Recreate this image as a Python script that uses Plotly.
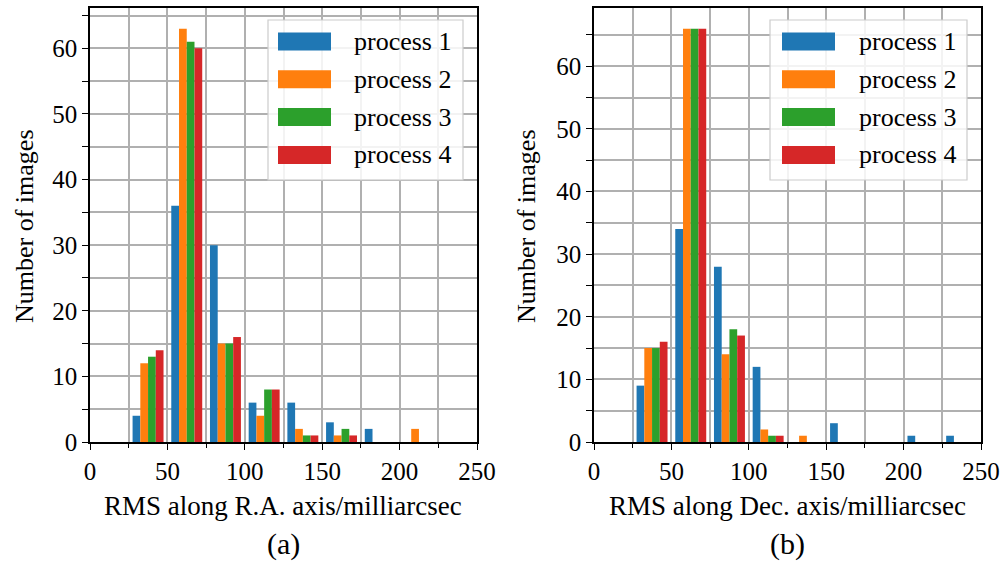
import plotly.graph_objects as go

# ---- data ----
bin_centers = [37.5, 62.5, 87.5, 112.5, 137.5, 162.5, 187.5, 212.5, 237.5]
series_names = ["process 1", "process 2", "process 3", "process 4"]
colors = ["#1f77b4", "#ff7f0e", "#2ca02c", "#d62728"]

ra_p1 = [4, 36, 30, 6, 6, 3, 2, 0, 0]
ra_p2 = [12, 63, 15, 4, 2, 1, 0, 2, 0]
ra_p3 = [13, 61, 15, 8, 1, 2, 0, 0, 0]
ra_p4 = [14, 60, 16, 8, 1, 1, 0, 0, 0]

dec_p1 = [9, 34, 28, 12, 0, 3, 0, 1, 1]
dec_p2 = [15, 66, 14, 2, 1, 0, 0, 0, 0]
dec_p3 = [15, 66, 18, 1, 0, 0, 0, 0, 0]
dec_p4 = [16, 66, 17, 1, 0, 0, 0, 0, 0]

x_ticks = [0, 50, 100, 150, 200, 250]
y_ticks = [0, 10, 20, 30, 40, 50, 60]
xtitle_a = "RMS along R.A. axis/milliarcsec"
xtitle_b = "RMS along Dec. axis/milliarcsec"
ytitle = "Number of images"

W, H = 1002, 565
FONT = "Times New Roman, Liberation Serif, DejaVu Serif, serif"

def px(x):
    return x / W

def py(y):
    return 1 - y / H

fig = go.Figure()
ra = [ra_p1, ra_p2, ra_p3, ra_p4]
dec = [dec_p1, dec_p2, dec_p3, dec_p4]
for i in range(4):
    fig.add_trace(go.Bar(x=bin_centers, y=ra[i], name=series_names[i], marker_color=colors[i],
                         marker_line_width=0, xaxis="x", yaxis="y", showlegend=False))
for i in range(4):
    fig.add_trace(go.Bar(x=bin_centers, y=dec[i], name=series_names[i], marker_color=colors[i],
                         marker_line_width=0, xaxis="x2", yaxis="y2", showlegend=False))

def xax(domain, anchor):
    return dict(domain=domain, anchor=anchor, range=[0, 250], tickvals=x_ticks,
                automargin=False,
                showgrid=True, gridcolor="#b0b0b0", gridwidth=1.5,
                minor=dict(dtick=25, tick0=0, showgrid=True, gridcolor="#b0b0b0", gridwidth=1.5,
                           ticks="outside", ticklen=4, tickcolor="black"),
                ticks="outside", ticklen=6, tickwidth=1.2, tickcolor="black",
                showline=True, linecolor="black", linewidth=1.5, mirror=True,
                zeroline=False, tickfont=dict(size=25, color="black", family=FONT))

def yax(domain, anchor, top):
    return dict(domain=domain, anchor=anchor, range=[0, top], tickvals=y_ticks,
                automargin=False,
                showgrid=True, gridcolor="#b0b0b0", gridwidth=1.5,
                minor=dict(dtick=5, tick0=0, showgrid=True, gridcolor="#b0b0b0", gridwidth=1.5,
                           ticks="outside", ticklen=6, tickcolor="black"),
                ticks="outside", ticklen=6, tickwidth=1.2, tickcolor="black",
                showline=True, linecolor="black", linewidth=1.5, mirror=True,
                zeroline=False, tickfont=dict(size=25, color="black", family=FONT))

ydom = [py(442), py(8)]
fig.update_layout(
    width=W, height=H, margin=dict(l=0, r=0, t=0, b=0, autoexpand=False),
    paper_bgcolor="white", plot_bgcolor="white",
    barmode="group", bargap=0.2, bargroupgap=0,
    font=dict(family=FONT, color="black"),
    xaxis=xax([px(90), px(477)], "y"),
    yaxis=yax(ydom, "x", max(max(l) for l in ra) * 1.05),
    xaxis2=xax([px(594), px(981)], "y2"),
    yaxis2=yax(ydom, "x2", max(max(l) for l in dec) * 1.05),
)

annotations = []
shapes = []
# axis titles and panel labels
for cx, lab, t in [(283, "(a)", xtitle_a), (787, "(b)", xtitle_b)]:
    annotations.append(dict(x=px(cx), y=py(506), xref="paper", yref="paper", text=t,
                            showarrow=False, font=dict(size=27, family=FONT, color="black"),
                            xanchor="center", yanchor="middle"))
    annotations.append(dict(x=px(cx), y=py(544), xref="paper", yref="paper", text=lab,
                            showarrow=False, font=dict(size=30, family=FONT, color="black"),
                            xanchor="center", yanchor="middle"))
for cx in [24, 526]:
    annotations.append(dict(x=px(cx), y=py(226), xref="paper", yref="paper", text=ytitle,
                            showarrow=False, textangle=-90,
                            font=dict(size=26, family=FONT, color="black"),
                            xanchor="center", yanchor="middle"))

# custom legends
for bx0, bx1, patch_x0, text_x in [(268, 463, 278, 352), (770, 967, 782, 857)]:
    shapes.append(dict(type="rect", xref="paper", yref="paper",
                       x0=px(bx0), x1=px(bx1), y0=py(180), y1=py(20),
                       line=dict(color="#cccccc", width=1.2), fillcolor="rgba(255,255,255,0.85)",
                       layer="above"))
    for i in range(4):
        cy = 41.5 + i * 37.8
        shapes.append(dict(type="rect", xref="paper", yref="paper",
                           x0=px(patch_x0), x1=px(patch_x0 + 53), y0=py(cy + 9), y1=py(cy - 9),
                           line=dict(width=0), fillcolor=colors[i], layer="above"))
        annotations.append(dict(x=px(text_x), y=py(cy), xref="paper", yref="paper",
                                text=series_names[i], showarrow=False,
                                font=dict(size=26, family=FONT, color="black"),
                                xanchor="left", yanchor="middle"))

fig.update_layout(annotations=annotations, shapes=shapes)
fig.write_html("out.html", config={"displayModeBar": False},
               post_script="document.body.style.margin='0';document.body.style.overflow='hidden';")
